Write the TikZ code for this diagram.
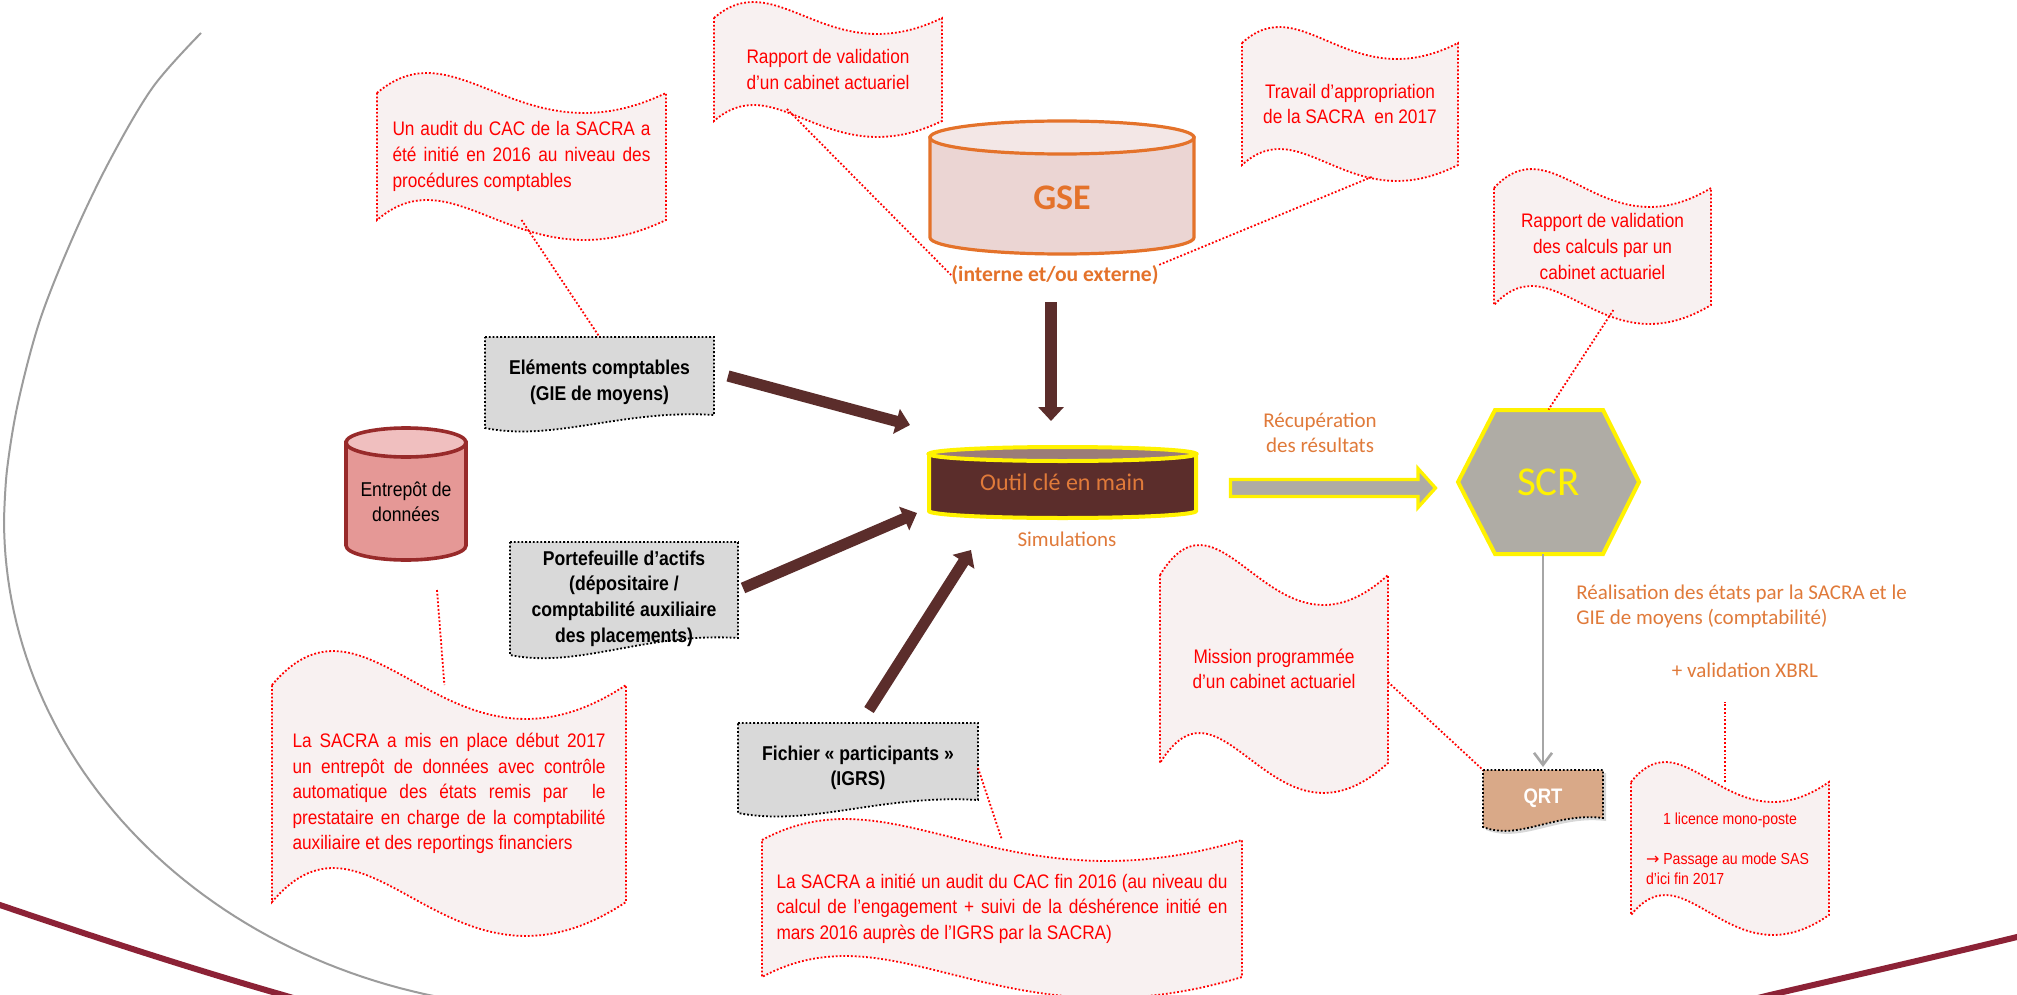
\documentclass[tikz,border=0pt]{standalone}
\usepackage{fontspec}
\setmainfont{Liberation Sans}
\newfontfamily\arialn[FakeStretch=0.88]{Liberation Sans}
\newfontfamily\calib{Carlito}
\newfontfamily\dejavu{DejaVu Sans}
\usetikzlibrary{arrows.meta,calc,backgrounds,shadows}

\definecolor{brownA}{HTML}{5B2D2B}
\definecolor{brownTop}{HTML}{9B7C78}
\definecolor{hexgray}{HTML}{AFACA5}
\definecolor{notefill}{HTML}{F8F1F1}
\definecolor{boxgray}{HTML}{D9D9D9}
\definecolor{orangeT}{HTML}{E07A3A}
\definecolor{orangeB}{HTML}{E4722A}
\definecolor{gseBody}{HTML}{EBD5D3}
\definecolor{gseTop}{HTML}{F3E7E6}
\definecolor{entBody}{HTML}{E59896}
\definecolor{entTop}{HTML}{F0BFBF}
\definecolor{entLine}{HTML}{982A2A}
\definecolor{qrtfill}{HTML}{D9A988}
\definecolor{maroonA}{HTML}{8C2236}
\definecolor{arcgray}{HTML}{9C9C9C}
\definecolor{linkgray}{HTML}{A6A6A6}

% wave banner behind a node: name, wave amplitude, style
\newcommand\wavebanner[3]{%
  \begin{scope}[on background layer]
    \path[#3] (#1.north west)
      .. controls ($(#1.north west)!0.28!(#1.north east)+(0,-3.46*#2)$)
         and ($(#1.north west)!0.5!(#1.north east)+(0,3.46*#2)$) .. (#1.north east)
      -- (#1.south east)
      .. controls ($(#1.south west)!0.5!(#1.south east)+(0,3.46*#2)$)
         and ($(#1.south west)!0.28!(#1.south east)+(0,-3.46*#2)$) .. (#1.south west)
      -- cycle;
  \end{scope}}

% document shape (flat top, wavy bottom) behind a node: name, rise of right end, style
\newcommand\docshape[3]{%
  \begin{scope}[on background layer]
    \path[#3] (#1.north west) -- (#1.north east) -- ($(#1.south east)+(0,-#2)$)
      .. controls ($(#1.south west)!0.6!(#1.south east)+(0,-#2-6)$)
         and ($(#1.south west)!0.3!(#1.south east)+(0,14)$) .. (#1.south west)
      -- cycle;
  \end{scope}}

% cylinder: left, right, centre x, x radius, top y, bottom y, y radius, body style, top style
\newcommand\cyl[9]{%
  \path[#8] (#1,#5) -- (#1,#6) arc[start angle=180, end angle=0, x radius=#4, y radius=#7] -- (#2,#5) -- cycle;
  \path[#9] (#3,#5) ellipse[x radius=#4, y radius=#7];
}

\begin{document}
\begin{tikzpicture}[x=0.5pt, y=-0.5pt,
  boxsize/.style 2 args={minimum width=#1*0.5pt, minimum height=#2*0.5pt},
  dotline/.style={line width=0.9pt, dash pattern=on 0.9pt off 1pt},
  notebox/.style={rectangle, inner sep=0pt, outer sep=0pt, text=red, align=center,
    font=\arialn\fontsize{9.8}{12.8}\selectfont},
  wavefill/.style={fill=notefill, draw=red, dotline},
  leader/.style={draw=red, dotline},
  docfill/.style={fill=boxgray, draw=black, dotline},
  boxtext/.style={rectangle, inner sep=0pt, outer sep=0pt, align=center,
    font=\arialn\bfseries\fontsize{10}{12.8}\selectfont},
  bigarrow/.style={draw=brownA, line width=5.6pt, -{Triangle[width=12.5pt,length=7pt]}},
  orangetxt/.style={text=orangeT, align=center, inner sep=0pt,
    font=\calib\fontsize{10.5}{12.5}\selectfont}]

\useasboundingbox (0,0) rectangle (2017,995);

% page background and decorative arcs
\begin{scope}[on background layer]
  \fill[white] (0,0) rectangle (2017,995);
  \begin{scope}
    \clip (0,0) rectangle (2017,995);
    \draw[arcgray, line width=1pt] plot[smooth, tension=0.55] coordinates {
      (201,33) (153,87) (110,160) (73,237) (40,320) (18,403) (7,470) (4,520)}
      -- plot[domain=180:100, samples=60] ({561+557*cos(\x)},{520+489*sin(\x)});
    \draw[maroonA, line width=3pt] (-20,898.5) -- (0,905)
      .. controls (94,937) and (189,968) .. (283,995) -- (300,1000);
    \draw[maroonA, line width=3pt] (1750,1000) -- (1770,995)
      .. controls (1852,976) and (1935,957) .. (2017,937) -- (2035,932);
  \end{scope}
\end{scope}

% cylinders
\cyl{930}{1194}{1062}{132}{137.5}{237.5}{16.5}
  {fill=gseBody, draw=orangeB, line width=1.6pt}{fill=gseTop, draw=orangeB, line width=1.6pt}
\cyl{929}{1196}{1062.5}{133.5}{454}{511}{7}
  {fill=brownA, draw=yellow, line width=2pt}{fill=brownTop, draw=yellow, line width=2pt}
\cyl{346}{466}{406}{60}{442.5}{545.5}{14.5}
  {fill=entBody, draw=entLine, line width=1.8pt}{fill=entTop, draw=entLine, line width=1.8pt}

\node[font=\calib\bfseries\fontsize{18}{20}\selectfont, text=orangeB] (gse) at (1062,198) {GSE};
\node[boxsize={267}{71}, inner sep=0pt, text=orangeT, font=\calib\fontsize{12}{14}\selectfont]
  (outil) at (1062.5,482.5) {Outil clé en main};
\node[font=\arialn\fontsize{10}{12.5}\selectfont, align=center, inner sep=0pt]
  (entrepot) at (406,502) {Entrepôt de\\données};

% SCR hexagon
\path[fill=hexgray, draw=yellow, line width=2pt]
  (1495,410) -- (1603,410) -- (1639,482) -- (1603,554) -- (1495,554) -- (1458,482) -- cycle;
\node[boxsize={181}{144}, inner sep=0pt, text=yellow, font=\calib\fontsize{20.5}{24}\selectfont]
  (scr) at (1548.5,482) {SCR};

% orange labels
\node[orangetxt, font=\calib\bfseries\fontsize{10.8}{13}\selectfont, text=orangeB]
  (interne) at (1055,275) {(interne et/ou externe)};
\node[orangetxt] (recup) at (1320,432.5) {Récupération\\des résultats};
\node[orangetxt] (simul) at (1067,539) {Simulations};
\node[orangetxt, align=left, anchor=west] (realis) at (1576,606.5)
  {Réalisation des états par la SACRA et le\\GIE de moyens (comptabilité)};
\node[orangetxt] (xbrl) at (1745,670) {+ validation XBRL};

% grey input boxes
\node[boxtext, boxsize={229}{91}] (elements) at (599.5,382.5) {Eléments comptables\\(GIE de moyens)};
\node[boxtext, boxsize={228}{113}] (port) at (624,598.5)
  {Portefeuille d’actifs\\(dépositaire /\\comptabilité auxiliaire\\des placements)};
\node[boxtext, boxsize={240}{90}] (fichier) at (858,768) {Fichier « participants »\\(IGRS)};
\node[boxtext, boxsize={120}{57}, text=white, font=\arialn\bfseries\fontsize{10.5}{12}\selectfont]
  (qrt) at (1543,798.5) {QRT};
\docshape{elements}{13}{docfill}
\docshape{port}{17}{docfill}
\docshape{fichier}{13}{docfill}
\docshape{qrt}{9}{docfill, fill=qrtfill, drop shadow={opacity=0.3, shadow xshift=1.5pt, shadow yshift=-1.5pt}}

% red notes
\node[notebox, boxsize={289}{127}] (audit) at (521.5,156.5)
  {\makebox[129pt][s]{Un audit du CAC de la SACRA a}\\
   \makebox[129pt][s]{été initié en 2016 au niveau des}\\
   \makebox[129pt][l]{procédures comptables}};
\node[notebox, boxsize={228}{103}] (rap1) at (828,69.5) {Rapport de validation\\d’un cabinet actuariel};
\node[notebox, boxsize={216}{122}] (trav) at (1350,104) {Travail d’appropriation\\de la SACRA\ \ en 2017};
\node[notebox, boxsize={217}{117}] (calc) at (1602.5,246.5)
  {Rapport de validation\\des calculs par un\\cabinet actuariel};
\node[notebox, boxsize={228}{188}] (mission) at (1274,669) {Mission programmée\\d’un cabinet actuariel};
\node[notebox, boxsize={198}{133}, font=\arialn\fontsize{8}{10}\selectfont] (lic) at (1730,848.5)
  {\makebox[84pt][c]{1 licence mono-poste}\\[10pt]
   \makebox[84pt][l]{{\dejavu →}\ Passage au mode SAS}\\
   \makebox[84pt][l]{d’ici fin 2017}};
\node[notebox, boxsize={354}{217}] (entrnote) at (449,793.5)
  {\makebox[156.5pt][s]{La SACRA a mis en place début 2017}\\
   \makebox[156.5pt][s]{un entrepôt de données avec contrôle}\\
   \makebox[156.5pt][s]{automatique des états remis par \ le}\\
   \makebox[156.5pt][s]{prestataire en charge de la comptabilité}\\
   \makebox[156.5pt][l]{auxiliaire et des reportings financiers}};
\node[notebox, boxsize={480}{137}] (init) at (1002,908.5)
  {\makebox[225.5pt][s]{La SACRA a initié un audit du CAC fin 2016 (au niveau du}\\
   \makebox[225.5pt][s]{calcul de l’engagement + suivi de la déshérence initié en}\\
   \makebox[225.5pt][l]{mars 2016 auprès de l’IGRS par la SACRA)}};
\wavebanner{audit}{20}{wavefill}
\wavebanner{rap1}{16}{wavefill}
\wavebanner{trav}{16}{wavefill}
\wavebanner{calc}{19}{wavefill}
\wavebanner{mission}{30}{wavefill}
\wavebanner{lic}{20}{wavefill}
\wavebanner{entrnote}{34}{wavefill}
\wavebanner{init}{21}{wavefill}

% dotted leaders from the notes
\draw[leader] (audit.south) -- (elements.north);
\draw[leader] ($(rap1.south west)!0.32!(rap1.south east)+(0,-12)$) -- (interne.west);
\draw[leader] ($(trav.south west)!0.6!(trav.south east)+(0,12)$) -- (interne.north east);
\draw[leader] ($(calc.south west)!0.55!(calc.south east)+(0,5)$) -- (scr.north);
\coordinate (entrfoot) at (437,590);
\draw[leader] (entrfoot) -- ($(entrnote.north west)!0.487!(entrnote.north east)$);
\draw[leader] (fichier.east) -- (init.north);
\draw[leader] ([yshift=-6.5pt]mission.east) -- (qrt.north west);
\coordinate (xbrlfoot) at (1725,702);
\draw[leader] (xbrlfoot |- lic.north) -- (xbrlfoot);

% flows into the tool
\coordinate (eA) at (728,376);  \coordinate (eB) at (910,425);
\coordinate (gA) at (1051,302); \coordinate (gB) at (1051,421);
\coordinate (pA) at (743,588);  \coordinate (pB) at (917,513);
\coordinate (fA) at (869,710);  \coordinate (fB) at (971,550);
\draw[bigarrow] (eA) -- (eB);
\draw[bigarrow] (gA) -- (gB);
\draw[bigarrow] (pA) -- (pB);
\draw[bigarrow] (fA) -- (fB);

% block arrow from the tool to SCR
\path[fill=hexgray, draw=yellow, line width=1.6pt]
  (1230.5,479.5) -- (1418,479.5) -- (1418,468.5) -- (1435.5,488) -- (1418,507.5)
  -- (1418,496.5) -- (1230.5,496.5) -- cycle;

% SCR to QRT
\draw[linkgray, line width=1.3pt, -{Straight Barb[length=6pt,width=9pt]}, shorten >=1.5pt]
  (scr.south -| qrt.north) -- (qrt.north);

\end{tikzpicture}
\end{document}
